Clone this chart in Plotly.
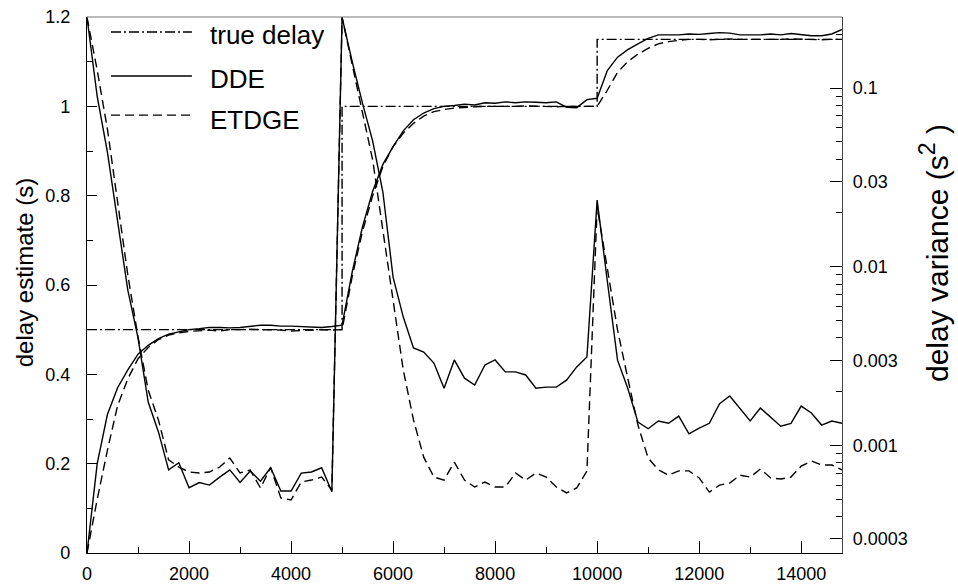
import plotly.graph_objects as go

# ---------------- data ----------------
t = list(range(0, 14801, 200))

true_delay_t = [0, 5000, 5000, 10000, 10000, 14800]
true_delay_v = [0.5, 0.5, 1.0, 1.0, 1.15, 1.15]

dde_est = [
    0.0, 0.20, 0.31, 0.37, 0.41, 0.445, 0.465, 0.48, 0.49, 0.495,
    0.50, 0.502, 0.505, 0.505, 0.504, 0.505, 0.508, 0.51, 0.51, 0.508,
    0.508, 0.507, 0.506, 0.505, 0.507, 0.51, 0.63, 0.73, 0.81, 0.87,
    0.91, 0.945, 0.97, 0.985, 0.995, 1.0, 1.002, 1.005, 1.003, 1.008,
    1.007, 1.01, 1.008, 1.01, 1.009, 1.008, 1.01, 0.998, 0.997, 1.015,
    1.018, 1.08, 1.11, 1.127, 1.14, 1.152, 1.16, 1.16, 1.16, 1.162,
    1.161, 1.163, 1.165, 1.164, 1.16, 1.16, 1.16, 1.162, 1.16, 1.163,
    1.16, 1.158, 1.158, 1.162, 1.172,
]

etdge_est = [
    0.0, 0.12, 0.23, 0.33, 0.39, 0.435, 0.46, 0.478, 0.488, 0.493,
    0.496, 0.498, 0.499, 0.497, 0.50, 0.50, 0.501, 0.50, 0.50, 0.499,
    0.497, 0.498, 0.499, 0.50, 0.499, 0.50, 0.62, 0.72, 0.80, 0.865,
    0.91, 0.94, 0.962, 0.978, 0.988, 0.993, 0.996, 0.998, 0.999, 1.0,
    1.0, 0.999, 1.0, 1.001, 1.0, 1.0, 0.999, 1.0, 1.0, 1.0,
    1.0, 1.036, 1.076, 1.10, 1.117, 1.13, 1.14, 1.145, 1.148, 1.15,
    1.15, 1.149, 1.15, 1.151, 1.15, 1.15, 1.149, 1.15, 1.15, 1.151,
    1.15, 1.15, 1.149, 1.15, 1.15,
]

dde_var = [
    0.249, 0.090, 0.0438, 0.0178, 0.0074, 0.0040, 0.00175, 0.00119, 0.00073, 0.00080,
    0.00058, 0.00062, 0.00060, 0.000665, 0.00073, 0.00062, 0.00072, 0.00063, 0.00075, 0.000556,
    0.000556, 0.00070, 0.00071, 0.00075, 0.00055, 0.249, 0.14, 0.0824, 0.0505, 0.0262,
    0.00875, 0.00523, 0.00351, 0.00333, 0.00289, 0.00209, 0.00301, 0.00238, 0.00218, 0.00282,
    0.00301, 0.00258, 0.00258, 0.00248, 0.00209, 0.00212, 0.00212, 0.00232, 0.00275, 0.00313,
    0.0236, 0.0083, 0.0030, 0.00209, 0.00135, 0.00124, 0.00137, 0.00133, 0.00146, 0.00116,
    0.00125, 0.00133, 0.00171, 0.00189, 0.0016, 0.00137, 0.00162, 0.00144, 0.00128, 0.00133,
    0.00166, 0.00152, 0.0013, 0.00137, 0.00133,
]

etdge_var = [
    0.249, 0.126, 0.059, 0.0236, 0.0090, 0.00405, 0.00204, 0.00139, 0.00083, 0.000757,
    0.00071, 0.000701, 0.00071, 0.000757, 0.00085, 0.000701, 0.000728, 0.000578, 0.00075, 0.000508,
    0.000495, 0.000624, 0.00064, 0.000665, 0.000562, 0.249, 0.134, 0.0753, 0.0396, 0.016,
    0.0065, 0.00264, 0.00139, 0.00086, 0.000665, 0.00064, 0.000807, 0.00064, 0.000585, 0.000624,
    0.000585, 0.000585, 0.000701, 0.00064, 0.000701, 0.000665, 0.000585, 0.000542, 0.000578, 0.00072,
    0.0216, 0.0098, 0.00443, 0.00238, 0.0013, 0.00085, 0.00073, 0.000682, 0.00072, 0.00072,
    0.000658, 0.000548, 0.0006, 0.000616, 0.000682, 0.000665, 0.000738, 0.000658, 0.000649, 0.000665,
    0.000767, 0.000818, 0.000777, 0.000777, 0.00073,
]

x_ticks = list(range(0, 14001, 2000))
x_tick_text = [str(v) for v in x_ticks]
x_minor = list(range(1000, 14801, 2000))
var_ticks = [0.0003, 0.001, 0.003, 0.01, 0.03, 0.1]
var_tick_text = ["0.0003", "0.001", "0.003", "0.01", "0.03", "0.1"]
var_minor = [0.0004, 0.0005, 0.0006, 0.0007, 0.0008, 0.0009, 0.002,
             0.004, 0.005, 0.006, 0.007, 0.008, 0.009, 0.02,
             0.04, 0.05, 0.06, 0.07, 0.08, 0.09, 0.2]

legend_names = ["true delay", "DDE", "ETDGE"]

# ---------------- styles ----------------
FONT = "Liberation Sans, Arial, sans-serif"
W = 1.4
DASH = "9px,5px"
DASHDOT = "10px,3px,2px,3px"

fig = go.Figure()

fig.add_trace(go.Scatter(x=true_delay_t, y=true_delay_v, mode="lines",
                         line=dict(color="black", width=W, dash=DASHDOT),
                         name=legend_names[0], yaxis="y"))
fig.add_trace(go.Scatter(x=t, y=dde_est, mode="lines",
                         line=dict(color="black", width=W),
                         name=legend_names[1], yaxis="y"))
fig.add_trace(go.Scatter(x=t, y=etdge_est, mode="lines",
                         line=dict(color="black", width=W, dash=DASH),
                         name=legend_names[2], yaxis="y"))
fig.add_trace(go.Scatter(x=t, y=dde_var, mode="lines",
                         line=dict(color="black", width=W),
                         name="DDE variance", yaxis="y2"))
fig.add_trace(go.Scatter(x=t, y=etdge_var, mode="lines",
                         line=dict(color="black", width=W, dash=DASH),
                         name="ETDGE variance", yaxis="y2"))

fig.update_layout(
    width=958, height=588,
    margin=dict(l=87, r=116, t=17, b=35, autoexpand=False),
    paper_bgcolor="white", plot_bgcolor="white",
    showlegend=False,
    font=dict(family=FONT, size=18, color="black"),
    xaxis=dict(
        range=[0, 14800], tickmode="array", tickvals=x_ticks, ticktext=x_tick_text,
        ticks="inside", ticklen=12, automargin=False,
        tickcolor="black", showline=True, linecolor="black", linewidth=1.2,
        showgrid=False, zeroline=False, ticklabelstandoff=4,
        minor=dict(tickmode="array", tickvals=x_minor,
                   ticks="inside", ticklen=6, tickcolor="black", showgrid=False),
        tickfont=dict(size=18),
    ),
    yaxis=dict(
        range=[0, 1.2], dtick=0.2, tick0=0, ticks="inside", ticklen=10,
        tickcolor="black", showline=True, linecolor="black", linewidth=1.2,
        showgrid=False, zeroline=False, ticklabelstandoff=12, automargin=False,
        minor=dict(dtick=0.1, ticks="inside", ticklen=6, tickcolor="black", showgrid=False),
        tickfont=dict(size=18),
    ),
    yaxis2=dict(
        type="log", range=[-3.60206, -0.60206], overlaying="y", side="right",
        tickmode="array", tickvals=var_ticks, ticktext=var_tick_text,
        ticks="inside", ticklen=12, tickcolor="black", automargin=False,
        showline=True, linecolor="#444", linewidth=1.2,
        showgrid=False, zeroline=False, ticklabelstandoff=6,
        minor=dict(tickmode="array", tickvals=var_minor, ticks="inside",
                   ticklen=6, tickcolor="black", showgrid=False),
        tickfont=dict(size=18),
    ),
)

# top frame line
fig.add_shape(type="line", xref="paper", yref="paper", x0=0, x1=1, y0=1, y1=1,
              line=dict(color="#777", width=1.2))

# axis titles
fig.add_annotation(text="delay estimate (s)", xref="paper", yref="paper",
                   x=-0.0834, y=0.522, textangle=-90, showarrow=False,
                   font=dict(size=24, family=FONT), xanchor="center", yanchor="middle")
fig.add_annotation(text="delay variance (s<sup><span style='font-size:23px'>2</span></sup> )",
                   xref="paper", yref="paper",
                   x=1.1219, y=0.5597, textangle=-90, showarrow=False,
                   font=dict(size=30, family=FONT), xanchor="center", yanchor="middle")

# legend (drawn manually for long line samples)
leg_line_y = [0.972, 0.890, 0.817]
leg_text_y = [0.9655, 0.8834, 0.8078]
leg_dash = [DASHDOT, "solid", DASH]
for name, ly, ty, d in zip(legend_names, leg_line_y, leg_text_y, leg_dash):
    fig.add_shape(type="line", xref="paper", yref="paper", x0=0.0318, x1=0.139,
                  y0=ly, y1=ly, line=dict(color="black", width=W, dash=d))
    fig.add_annotation(text=name, xref="paper", yref="paper", x=0.160, y=ty,
                       showarrow=False, xanchor="left", yanchor="middle",
                       font=dict(size=26, family=FONT))

fig.write_html("out.html")
